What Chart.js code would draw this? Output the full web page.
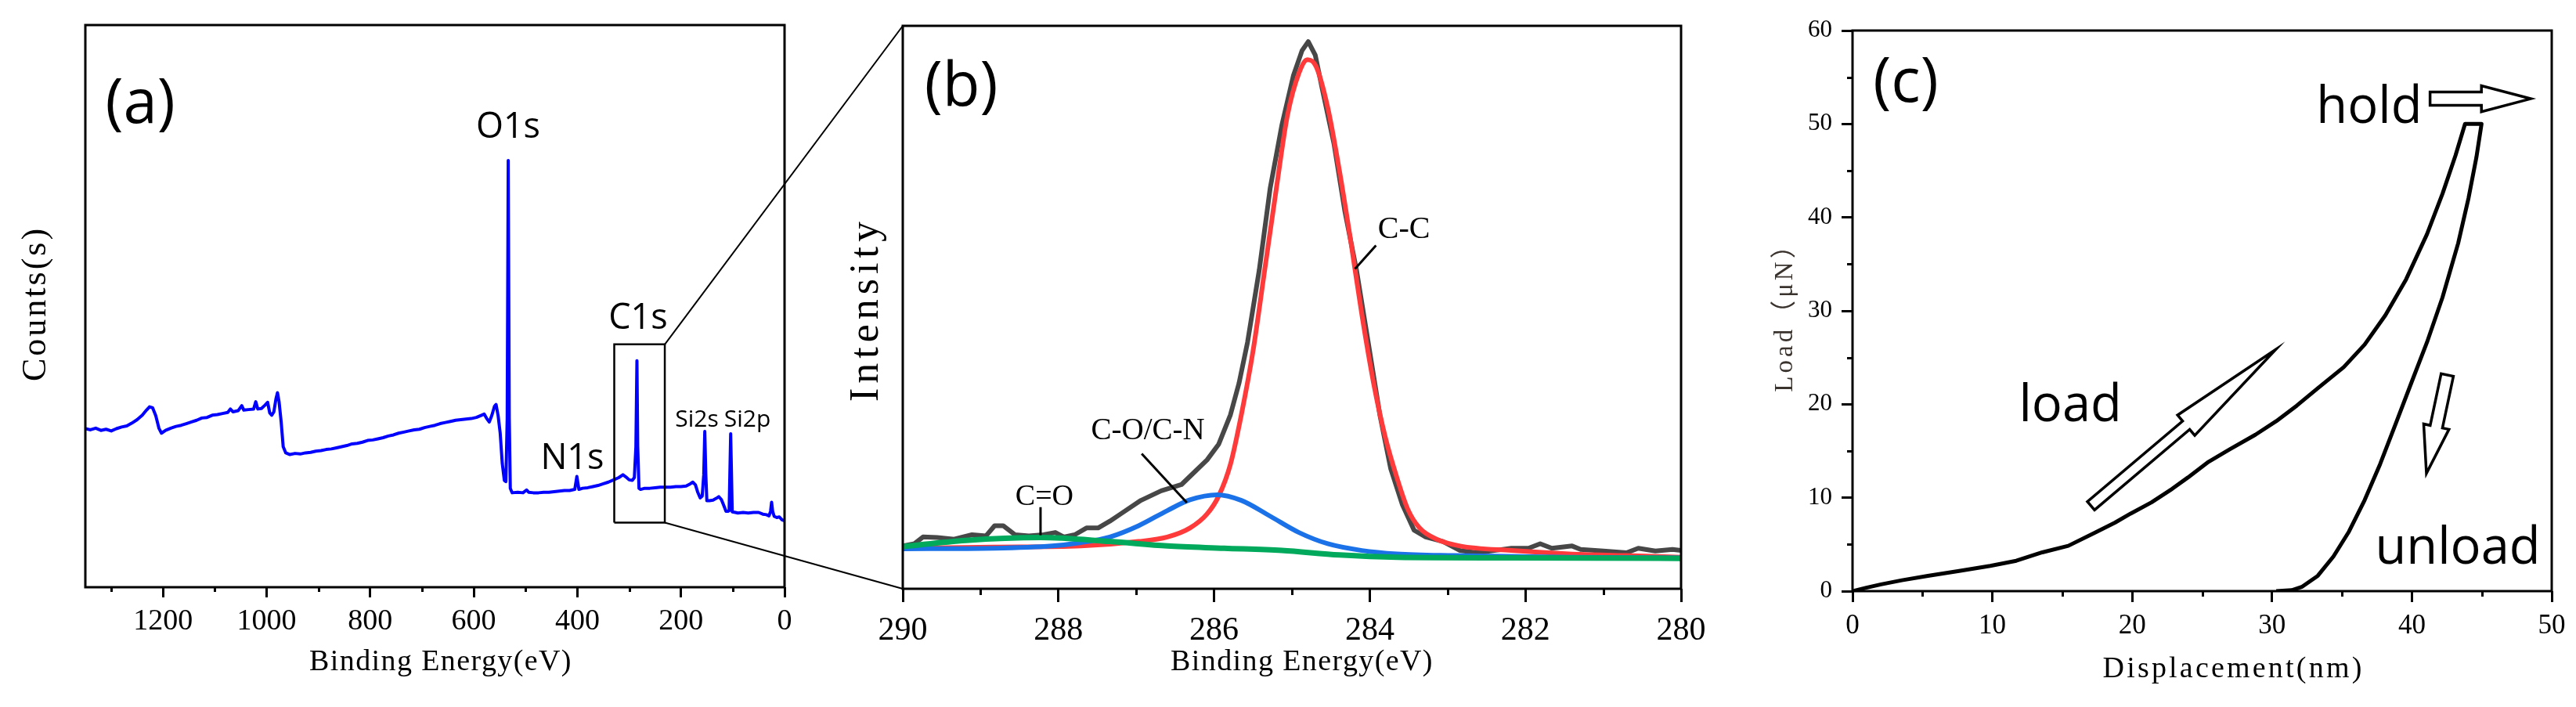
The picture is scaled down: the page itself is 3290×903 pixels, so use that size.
<!DOCTYPE html>
<html><head><meta charset="utf-8">
<script src="https://cdn.jsdelivr.net/npm/chart.js@4.4.0/dist/chart.umd.min.js"></script>
<style>
html,body{margin:0;padding:0;background:#fff;}
body{width:3290px;height:903px;position:relative;overflow:hidden;}
canvas{position:absolute;top:0;}
#ca{left:0;width:1010px;height:903px;}
#cb{left:1010px;width:1190px;height:903px;}
#cc{left:2200px;width:1090px;height:903px;}
#ov{left:0;width:3290px;height:903px;pointer-events:none;}
</style></head><body>
<canvas id="ca" width="1010" height="903"></canvas>
<canvas id="cb" width="1190" height="903"></canvas>
<canvas id="cc" width="1090" height="903"></canvas>
<canvas id="ov" width="3290" height="903"></canvas>
<script>
// ---------- DATA ----------
// (a) XPS survey spectrum
const surveyBE = [
1350,1340,1330,1320,1310,1300,1290,1280,1270,1260,
1250,1240,1232,1226,1220,1214,1208,1203,1195,1185,
1175,1165,1155,1145,1135,1125,1115,1105,1095,1085,
1075,1070,1065,1055,1048,1044,1035,1025,1021,1017,
1010,1003,998,994,990,986,982,979,976,972,
968,963,955,945,935,925,915,905,895,885,
875,865,855,845,835,825,815,805,795,785,
775,765,755,745,735,725,715,705,695,685,
675,665,655,645,635,625,615,605,595,585,
580,575,570,565,560,557,553,549,545,541,
538,535.5,533.5,531.5,529.5,526,515,505,498,494,
485,475,465,455,445,435,425,415,405,401,
397,390,380,370,360,350,340,330,320,312,
306,300,294,290,287,285,283.5,281,278,270,
260,250,240,230,220,210,200,190,182,177,
172,168,163,159,156,154,152,150,145,138,
132,127,122,118,113,109,107,104,101,95,
90,80,70,60,50,42,35,30,27,25,
23,20,15,10,5,0];
const surveyCounts = [
28.2,28.0,28.3,27.9,28.1,27.8,28.2,28.5,28.7,29.2,
29.8,30.6,31.5,32.1,31.9,30.5,28.3,27.4,27.9,28.3,
28.6,28.8,29.1,29.4,29.7,30.1,30.2,30.6,30.7,30.9,
31.1,31.7,31.2,31.4,32.3,31.5,31.6,31.7,33.0,31.7,
31.8,32.4,32.9,31.0,30.6,31.2,33.5,34.6,33.0,29.5,
25.0,23.9,23.6,23.8,23.7,23.9,24.0,24.2,24.3,24.5,
24.6,24.8,25.0,25.2,25.5,25.6,25.8,26.1,26.2,26.4,
26.6,26.9,27.1,27.4,27.6,27.8,28.0,28.1,28.4,28.6,
28.8,29.1,29.3,29.5,29.7,29.8,29.9,30.0,30.2,30.6,
30.8,30.0,29.4,30.6,32.2,32.5,30.5,27.4,22.0,19.0,
18.8,30.0,75.9,30.0,17.6,16.8,16.9,16.8,17.3,16.9,
16.8,16.8,16.9,16.9,17.0,17.1,17.2,17.2,17.4,19.7,
17.4,17.6,17.7,17.9,18.1,18.4,18.7,19.1,19.5,20.0,
19.6,19.1,19.0,19.5,25.0,40.3,25.0,17.6,17.4,17.6,
17.6,17.7,17.8,17.8,17.8,17.9,17.9,18.0,18.4,18.7,
18.2,17.0,15.9,16.2,20.0,27.7,20.0,15.4,15.4,15.5,
15.8,16.1,15.6,14.7,13.5,13.5,13.6,27.3,13.4,13.3,
13.2,13.3,13.2,13.3,13.3,13.0,12.9,12.7,13.5,15.1,
13.5,12.6,12.4,12.5,12.0,11.8];
const zoomBoxBE = [328.8, 231.2];
const zoomBoxCounts = [11.5, 43.2];

// (b) C1s high-resolution spectrum
const hrRawBE = [
290,289.85,289.74,289.56,289.34,289.11,288.93,288.82,288.71,288.56,
288.38,288.19,288.04,287.93,287.79,287.64,287.49,287.34,287.2,286.94,
286.68,286.42,286.24,286.09,285.94,285.79,285.68,285.57,285.42,285.28,
285.13,284.98,284.87,284.79,284.7,284.61,284.46,284.32,284.17,284.02,
283.87,283.73,283.58,283.43,283.28,283.06,282.84,282.62,282.4,282.18,
281.96,281.81,281.66,281.4,281.29,281.0,280.7,280.55,280.33,280.11,
280];
const hrRawI = [
7.6,8.0,9.2,9.1,8.8,9.6,9.4,11.2,11.2,9.6,
9.4,9.6,10.0,9.2,9.6,10.8,10.8,12.0,13.3,15.7,
17.4,18.5,20.9,22.9,25.7,30.9,36.5,43.8,56.6,71.1,
82.3,91.2,95.6,97.2,94.8,88.8,79.1,67.1,56.6,43.8,
30.9,21.3,14.9,10.4,9.2,8.4,6.8,6.4,6.8,7.2,
7.2,8.0,7.2,7.6,7.0,6.7,6.4,7.2,6.7,7.0,
6.8];
const fitCCBE = [290,288.82,287.71,286.97,286.6,286.31,286.09,285.94,285.79,285.65,285.5,285.35,285.2,285.06,284.91,284.8,284.69,284.54,284.39,284.24,284.1,283.95,283.8,283.65,283.51,283.36,283.14,282.84,282.18,281.44,280.7,280];
const fitCCI  = [7.2,7.4,7.6,8.4,9.2,10.8,13.3,16.5,22.1,30.9,42.2,56.6,71.1,83.9,91.6,94.0,92.8,85.5,74.3,61.4,48.6,36.5,26.9,19.7,14.1,10.8,8.8,7.6,6.8,6.2,5.9,5.6];
const fitCOBE = [290,288.82,288.08,287.71,287.34,286.97,286.6,286.31,285.96,285.65,285.28,284.91,284.54,284.1,283.65,282.92,281.44,280];
const fitCOI  = [7.1,7.2,7.6,8.2,9.2,11.2,13.9,15.8,16.7,15.7,12.9,10.0,8.0,6.8,6.2,5.9,5.6,5.5];
const fitCdOBE = [290,289.19,288.23,287.34,286.6,285.87,285.13,284.39,283.65,282.18,280];
const fitCdOI  = [7.5,8.6,9.1,8.4,7.6,7.2,6.8,6.0,5.6,5.5,5.4];

// (c) nanoindentation load-displacement (load, hold, unload)
const loadDisp = [
0,0.93,2.04,3.53,5.39,7.62,9.85,11.71,13.57,15.43,
17.29,18.77,19.89,21.38,22.86,23.98,25.46,26.95,28.81,30.3,
31.78,33.27,35.13,36.62,38.1,39.59,41.08,42.19,43.12,43.8,
44.98,44.61,44.05,43.31,42.19,41.08,39.96,38.85,37.73,36.62,
35.5,34.39,33.27,32.16,31.41,30.3];
const loadForce = [
0,0.34,0.72,1.16,1.64,2.15,2.7,3.25,4.15,4.85,
6.22,7.33,8.3,9.5,10.95,12.16,13.84,15.15,16.74,18.19,
19.87,21.71,23.98,26.39,29.52,33.38,38.2,42.54,46.64,50.0,
50.0,46.4,42.06,37.24,31.45,26.63,22.29,17.95,13.6,9.74,
6.37,3.71,1.64,0.48,0.1,0];

// tick values
const surveyTicks = [0,200,400,600,800,1000,1200];
const surveyMinorTicks = [100,300,500,700,900,1100,1300];
const c1sTicks = [280,282,284,286,288,290];
const c1sMinorTicks = [281,283,285,287,289];
const dispTicks = [0,10,20,30,40,50];
const dispMinorTicks = [5,15,25,35,45];
const loadTicks = [0,10,20,30,40,50,60];
const loadMinorTicks = [5,15,25,35,45,55];

// ---------- HELPERS ----------
const SERIF = "'Liberation Serif', 'Noto Sans CJK SC', serif";
const SANS = "'Open Sans', 'Noto Sans', sans-serif";
function pts(xs, ys){ return xs.map((x,i)=>({x:x, y:ys[i]})); }

Chart.defaults.animation = false;
Chart.defaults.events = [];
Chart.defaults.plugins.legend.display = false;
Chart.defaults.plugins.tooltip.enabled = false;

// axis title tweaks (shift + letter spacing)
const titleTweaks = {
  'ca:x': {dx: 7.5, dy: 0, ls: 1.4},
  'ca:y': {dx: 0, dy: -3, ls: 3},
  'cb:x': {dx: 13, dy: 0, ls: 1.4},
  'cb:y': {dx: 0, dy: 2.5, ls: 6},
  'cc:x': {dx: 40, dy: 0, ls: 3.2},
  'cc:y': {dx: 0, dy: 0, ls: 4}
};
const origDrawTitle = Chart.Scale.prototype.drawTitle;
Chart.Scale.prototype.drawTitle = function(){
  const t = titleTweaks[this.chart.canvas.id + ':' + this.id] || {};
  const ctx = this.ctx;
  ctx.save();
  ctx.translate(t.dx || 0, t.dy || 0);
  if ('letterSpacing' in ctx) ctx.letterSpacing = (t.ls || 0) + 'px';
  origDrawTitle.call(this);
  ctx.restore();
};

function axisX(o){
  return {
    type:'linear', position:'bottom', min:o.min, max:o.max, reverse:!!o.reverse,
    afterBuildTicks: s => { s.ticks = o.ticks.map(v => ({value:v})); },
    afterFit: s => { s.height = o.height; s.paddingLeft = 0; s.paddingRight = 0; },
    border:{display:false},
    grid:{display:true, drawOnChartArea:false, drawTicks:true, tickLength:o.tl, tickWidth:3, tickColor:'#000', color:'#000', lineWidth:3},
    ticks:{display:true, font:{family:SERIF, size:o.fs}, color:'#000', padding:o.pad, maxRotation:0, minRotation:0, autoSkip:false, callback: v => String(v)},
    title:{display:true, text:o.title, color:'#000', font:{family:SERIF, size:o.tfs, lineHeight:1}, padding:{top:0, bottom:o.tpad}}
  };
}
function axisY(o){
  const hasTicks = !!o.ticks;
  const ax = {
    type:'linear', position:'left', min:o.min, max:o.max,
    afterFit: s => { s.width = o.width; s.paddingTop = 0; s.paddingBottom = 0; },
    border:{display:false},
    grid: hasTicks ? {display:true, drawOnChartArea:false, drawTicks:true, tickLength:o.tl, tickWidth:3, tickColor:'#000', color:'#000', lineWidth:3} : {display:false},
    ticks: hasTicks ? {display:true, font:{family:SERIF, size:o.fs}, color:'#000', padding:o.pad, autoSkip:false, callback: v => String(v)} : {display:false},
    title:{display:true, text:o.title, color:o.tcolor || '#000', font:{family:SERIF, size:o.tfs, lineHeight:1}, padding:{top:o.tpad, bottom:0}}
  };
  if (hasTicks) ax.afterBuildTicks = s => { s.ticks = o.ticks.map(v => ({value:v})); };
  return ax;
}

function drawArrow(ctx, p0, p1, sw, hw, hl, lw){
  const dx = p1.x - p0.x, dy = p1.y - p0.y, L = Math.hypot(dx, dy);
  const ux = dx / L, uy = dy / L, nx = -uy, ny = ux;
  const bx = p1.x - ux * hl, by = p1.y - uy * hl;
  ctx.beginPath();
  ctx.moveTo(p0.x + nx*sw/2, p0.y + ny*sw/2);
  ctx.lineTo(bx + nx*sw/2, by + ny*sw/2);
  ctx.lineTo(bx + nx*hw/2, by + ny*hw/2);
  ctx.lineTo(p1.x, p1.y);
  ctx.lineTo(bx - nx*hw/2, by - ny*hw/2);
  ctx.lineTo(bx - nx*sw/2, by - ny*sw/2);
  ctx.lineTo(p0.x - nx*sw/2, p0.y - ny*sw/2);
  ctx.closePath();
  ctx.fillStyle = '#fff'; ctx.fill();
  ctx.lineWidth = lw; ctx.strokeStyle = '#000'; ctx.lineJoin = 'miter'; ctx.miterLimit = 10;
  ctx.stroke();
}

function decorPlugin(spec){
  return {
    id:'decor',
    afterDatasetsDraw(chart){
      const ctx = chart.ctx, ca = chart.chartArea, sx = chart.scales.x, sy = chart.scales.y;
      const P = (v) => ({x: sx.getPixelForValue(v[0]), y: sy.getPixelForValue(v[1])});
      ctx.save();
      // frame
      ctx.strokeStyle = '#000'; ctx.lineWidth = 3; ctx.lineJoin = 'miter';
      ctx.strokeRect(ca.left, ca.top, ca.right - ca.left, ca.bottom - ca.top);
      // minor ticks
      ctx.lineWidth = 3; ctx.lineCap = 'butt';
      ctx.beginPath();
      (spec.minorX || []).forEach(v => { const px = Math.round(sx.getPixelForValue(v)) + 0.5; ctx.moveTo(px, ca.bottom); ctx.lineTo(px, ca.bottom + spec.minorLen); });
      (spec.minorY || []).forEach(v => { const py = Math.round(sy.getPixelForValue(v)) + 0.5; ctx.moveTo(ca.left, py); ctx.lineTo(ca.left - spec.minorLen, py); });
      ctx.stroke();
      // pointer lines
      (spec.lines || []).forEach(l => {
        const a = P(l.from), b = P(l.to);
        ctx.beginPath(); ctx.moveTo(a.x, a.y); ctx.lineTo(b.x, b.y);
        ctx.lineWidth = l.width || 3; ctx.strokeStyle = '#000'; ctx.stroke();
      });
      // arrows
      (spec.arrows || []).forEach(a => drawArrow(ctx, P(a.from), P(a.to), a.sw, a.hw, a.hl, 3.5));
      // texts
      (spec.texts || []).forEach(t => {
        const p = P(t.at);
        ctx.font = t.font; ctx.fillStyle = t.color || '#000';
        ctx.textAlign = 'center'; ctx.textBaseline = 'alphabetic';
        ctx.fillText(t.text, p.x, p.y);
      });
      ctx.restore();
    }
  };
}

// ---------- PANEL (a) ----------
const boxPolygon = [
  {x: zoomBoxBE[0], y: zoomBoxCounts[0]}, {x: zoomBoxBE[1], y: zoomBoxCounts[0]},
  {x: zoomBoxBE[1], y: zoomBoxCounts[1]}, {x: zoomBoxBE[0], y: zoomBoxCounts[1]},
  {x: zoomBoxBE[0], y: zoomBoxCounts[0]}
];
const chartA = new Chart(document.getElementById('ca'), {
  type:'scatter',
  data:{datasets:[
    {data: boxPolygon, showLine:true, borderColor:'#000', borderWidth:2.5, pointRadius:0, tension:0, order:0},
    {data: pts(surveyBE, surveyCounts), showLine:true, borderColor:'#0000ff', borderWidth:4, pointRadius:0, tension:0, borderJoinStyle:'round', order:1}
  ]},
  options:{
    responsive:false, maintainAspectRatio:false,
    layout:{padding:{left:0, right:8, top:32, bottom:0}},
    scales:{
      x: axisX({min:0, max:1350, reverse:true, ticks:surveyTicks, height:153, tl:13, fs:38, pad:8, title:'Binding Energy(eV)', tfs:38, tpad:38}),
      y: axisY({min:0, max:100, width:109, title:'Counts(s)', tfs:44, tpad:24})
    }
  },
  plugins:[decorPlugin({
    minorX: surveyMinorTicks, minorLen: 6,
    texts:[
      {at:[1244, 82.6], text:'(a)', font:`78px ${SANS}`},
      {at:[533.7, 79.9], text:'O1s', font:`45px ${SANS}`},
      {at:[282.7, 46.0], text:'C1s', font:`45px ${SANS}`},
      {at:[409.7, 21.0], text:'N1s', font:`45px ${SANS}`},
      {at:[169.3, 28.6], text:'Si2s', font:`30px ${SANS}`},
      {at:[71.8, 28.6], text:'Si2p', font:`30px ${SANS}`}
    ]
  })]
});

// ---------- PANEL (b) ----------
const lineDs = (xs, ys, color, w, order, tension) => ({
  data: pts(xs, ys), showLine:true, borderColor:color, borderWidth:w, pointRadius:0,
  tension: tension, cubicInterpolationMode: tension ? 'monotone' : 'default', borderJoinStyle:'round', order:order
});
const chartB = new Chart(document.getElementById('cb'), {
  type:'scatter',
  data:{datasets:[
    lineDs(fitCdOBE, fitCdOI, '#00a95c', 7, 0, 0.4),
    lineDs(fitCOBE, fitCOI, '#1b72e8', 6, 1, 0.4),
    lineDs(fitCCBE, fitCCI, '#ff3a3a', 6, 2, 0.4),
    lineDs(hrRawBE, hrRawI, '#474747', 6, 3, 0)
  ]},
  options:{
    responsive:false, maintainAspectRatio:false,
    layout:{padding:{left:0, right:53, top:33, bottom:0}},
    scales:{
      x: axisX({min:280, max:290, reverse:true, ticks:c1sTicks, height:151, tl:17, fs:42, pad:12, title:'Binding Energy(eV)', tfs:38, tpad:38}),
      y: axisY({min:0, max:100, width:143, title:'Intensity', tfs:52, tpad:71})
    }
  },
  plugins:[decorPlugin({
    minorX: c1sMinorTicks, minorLen: 8,
    lines:[
      {from:[283.92, 61.0], to:[284.19, 56.8]},
      {from:[286.93, 24.0], to:[286.35, 15.3]},
      {from:[288.23, 14.5], to:[288.23, 9.5]}
    ],
    texts:[
      {at:[289.25, 85.8], text:'(b)', font:`78px ${SANS}`},
      {at:[283.56, 62.3], text:'C-C', font:`40px ${SERIF}`},
      {at:[286.85, 26.6], text:'C-O/C-N', font:`39px ${SERIF}`},
      {at:[288.18, 14.9], text:'C=O', font:`38px ${SERIF}`}
    ]
  })]
});

// ---------- PANEL (c) ----------
const chartC = new Chart(document.getElementById('cc'), {
  type:'scatter',
  data:{datasets:[
    {data: pts(loadDisp, loadForce), showLine:true, borderColor:'#000', borderWidth:5, pointRadius:0, tension:0, borderJoinStyle:'round'}
  ]},
  options:{
    responsive:false, maintainAspectRatio:false,
    layout:{padding:{left:0, right:31, top:39, bottom:0}},
    scales:{
      x: axisX({min:0, max:50, ticks:dispTicks, height:148, tl:14, fs:35, pad:10, title:'Displacement(nm)', tfs:38, tpad:29}),
      y: axisY({min:0, max:60, width:166, ticks:loadTicks, tl:14, fs:31, pad:12, title:'Load（μN）', tfs:33, tpad:63.5, tcolor:'#3a332d'})
    }
  },
  plugins:[decorPlugin({
    minorX: dispMinorTicks, minorY: loadMinorTicks, minorLen: 7,
    arrows:[
      {from:[17.05, 9.13], to:[30.27, 25.87], sw:14, hw:34, hl:150},
      {from:[41.3, 52.7], to:[48.5, 52.7], sw:17, hw:33, hl:63},
      {from:[42.53, 23.13], to:[41.04, 12.6], sw:16, hw:33, hl:61}
    ],
    texts:[
      {at:[3.81, 52.4], text:'(c)', font:`78px ${SANS}`},
      {at:[36.95, 50.1], text:'hold', font:`65px ${SANS}`},
      {at:[15.57, 18.18], text:'load', font:`65px ${SANS}`},
      {at:[43.28, 2.93], text:'unload', font:`65px ${SANS}`}
    ]
  })]
});

// ---------- zoom connector lines (a) box -> (b) frame ----------
(function(){
  const ctx = document.getElementById('ov').getContext('2d');
  const offA = chartA.canvas.offsetLeft, offB = chartB.canvas.offsetLeft;
  const xA = offA + chartA.scales.x.getPixelForValue(zoomBoxBE[1]);
  const yTop = chartA.scales.y.getPixelForValue(zoomBoxCounts[1]);
  const yBot = chartA.scales.y.getPixelForValue(zoomBoxCounts[0]);
  const B = chartB.chartArea;
  ctx.strokeStyle = '#000'; ctx.lineWidth = 2;
  ctx.beginPath();
  ctx.moveTo(xA, yTop); ctx.lineTo(offB + B.left, B.top);
  ctx.moveTo(xA, yBot); ctx.lineTo(offB + B.left, B.bottom);
  ctx.stroke();
})();
</script>
</body></html>
